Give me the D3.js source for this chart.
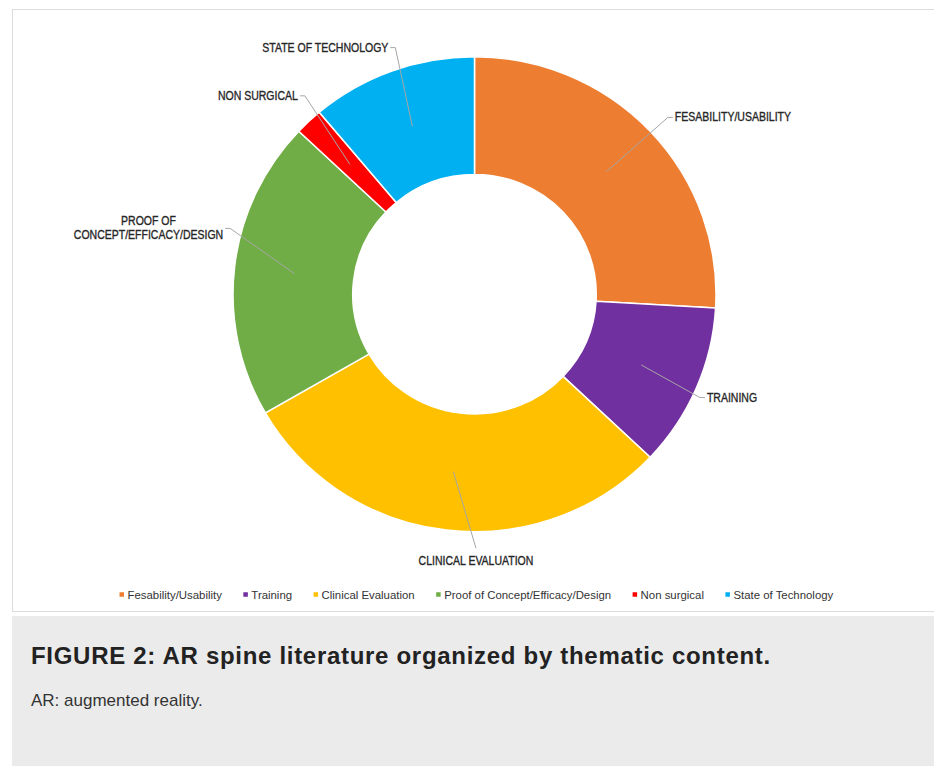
<!DOCTYPE html>
<html>
<head>
<meta charset="utf-8">
<script src="https://cdn.jsdelivr.net/npm/d3@7"></script>
<style>
  body { margin: 0; background: #fff; }
  svg { display: block; }
</style>
</head>
<body>
<div id="chart"></div>
<script>
// data
const categories = ['Fesability/Usability', 'Training', 'Clinical Evaluation',
    'Proof of Concept/Efficacy/Design', 'Non surgical', 'State of Technology'];
const sliceLabels = ['FESABILITY/USABILITY', 'TRAINING', 'CLINICAL EVALUATION',
    'PROOF OF\nCONCEPT/EFFICACY/DESIGN', 'NON SURGICAL', 'STATE OF TECHNOLOGY'];
const counts = [14, 6, 16, 11, 1, 6];
const colors = ['#ED7D31', '#7030A0', '#FFC000', '#70AD47', '#FF0000', '#00B0F0'];

const titleText = 'FIGURE 2: AR spine literature organized by thematic content.';
const noteText = 'AR: augmented reality.';

// layout of the leader lines (degrees off the slice middle, distance from centre)
const labelTurn = [0.9, 1.3, -7, 8.4, 2.8, 2.2];
const labelDist = [262, 248, 254, 253, 261, 259];

const width = 934;
const height = 766;
const cx = 474.5;
const cy = 294.2;
const rOuter = 240;
const rInner = 121;
const squashX = 241.5 / 240;  // the picture is a touch wider than high
const squashY = 237.5 / 240;
const font = '"Liberation Sans", Arial, sans-serif';

function DrawFrame(svg) {
    svg.append('rect')
        .attr('x', 12.5).attr('y', 9.5)
        .attr('width', 940).attr('height', 602)
        .attr('fill', '#fff')
        .attr('stroke', '#dcdcdc');

    svg.append('rect')
        .attr('x', 12).attr('y', 616)
        .attr('width', 930).attr('height', 160)
        .attr('fill', '#ebebeb');

    svg.append('text')
        .attr('x', 31).attr('y', 664.3)
        .style('font-family', font)
        .style('font-size', '24px')
        .style('font-weight', 'bold')
        .style('letter-spacing', '0.7px')
        .attr('fill', '#222')
        .text(titleText);

    svg.append('text')
        .attr('x', 31).attr('y', 706)
        .style('font-family', font)
        .style('font-size', '17px')
        .attr('fill', '#333')
        .text(noteText);
}

function DrawDonut(svg) {
    const pie = d3.pie().sort(null).value(d => d);
    const arcs = pie(counts);

    const arc = d3.arc().innerRadius(rInner).outerRadius(rOuter);

    const g = svg.append('g')
        .attr('transform', `translate(${cx},${cy}) scale(${squashX},${squashY})`);

    g.selectAll('path')
        .data(arcs)
        .enter()
        .append('path')
        .attr('d', arc)
        .attr('fill', (d, i) => colors[i])
        .attr('stroke', '#fff')
        .attr('stroke-width', 1.5);

    // leader lines + slice labels
    const lab = svg.append('g');
    arcs.forEach((d, i) => {
        const c = arc.centroid(d);
        const ax = cx + c[0] * squashX;
        const ay = cy + c[1] * squashY;
        const mid = (d.startAngle + d.endAngle) / 2 + labelTurn[i] * Math.PI / 180;
        const ex = cx + labelDist[i] * Math.sin(mid);
        const ey = cy - labelDist[i] * Math.cos(mid);
        const s = Math.sin(mid);
        const side = s > 0.3 ? 'right' : (s < -0.3 ? 'left' : 'bottom');

        const pts = [[ax, ay], [ex, ey]];
        if (side === 'right') pts.push([ex + 5, ey]);
        if (side === 'left') pts.push([ex - 5, ey]);

        lab.append('path')
            .attr('d', d3.line()(pts))
            .attr('fill', 'none')
            .attr('stroke', '#a6a6a6')
            .attr('stroke-width', 1);

        const lines = sliceLabels[i].split('\n');
        const t = lab.append('text')
            .style('font-family', font)
            .style('font-size', '12.5px')
            .attr('fill', '#262626')
            .attr('stroke', '#262626')
            .attr('stroke-width', 0.35)
            .attr('dominant-baseline', 'central');

        const spans = lines.map(l => t.append('tspan').text(l));
        // squeeze the text a bit, like the original
        const widths = spans.map(sp => sp.node().getComputedTextLength() * 0.84);
        spans.forEach((sp, k) => sp.attr('textLength', widths[k]).attr('lengthAdjust', 'spacingAndGlyphs'));
        const wMax = d3.max(widths);
        const y0 = ey - (lines.length - 1) * 7;

        spans.forEach((sp, k) => {
            let x = ex;
            let anchor = 'middle';
            if (side === 'right') { x = ex + 7; anchor = 'start'; }
            if (side === 'left') {
                if (lines.length === 1) { x = ex - 7; anchor = 'end'; }
                else x = ex - 7 - wMax / 2;   // block of lines centred on each other
            }
            sp.attr('x', x)
                .attr('text-anchor', anchor)
                .attr('y', side === 'bottom' ? ey + 12.7 : y0 + k * 14);
        });
    });
}

function DrawLegend(svg) {
    const leg = svg.append('g');
    let x = 0;
    categories.forEach((name, i) => {
        leg.append('rect')
            .attr('x', x).attr('y', 594.5 - 2.25)
            .attr('width', 4.5).attr('height', 4.5)
            .attr('fill', colors[i]);
        const t = leg.append('text')
            .attr('x', x + 8).attr('y', 594.5)
            .attr('dominant-baseline', 'central')
            .style('font-family', font)
            .style('font-size', '11.4px')
            .attr('fill', '#333')
            .text(name);
        x += 8 + t.node().getComputedTextLength() + 21.5;
    });
    const total = x - 21.5;
    leg.attr('transform', `translate(${476.4 - total / 2},0)`);
}

const svg = d3.select('#chart')
    .append('svg')
    .attr('width', width)
    .attr('height', height);

DrawFrame(svg);
DrawDonut(svg);
DrawLegend(svg);
</script>
</body>
</html>
